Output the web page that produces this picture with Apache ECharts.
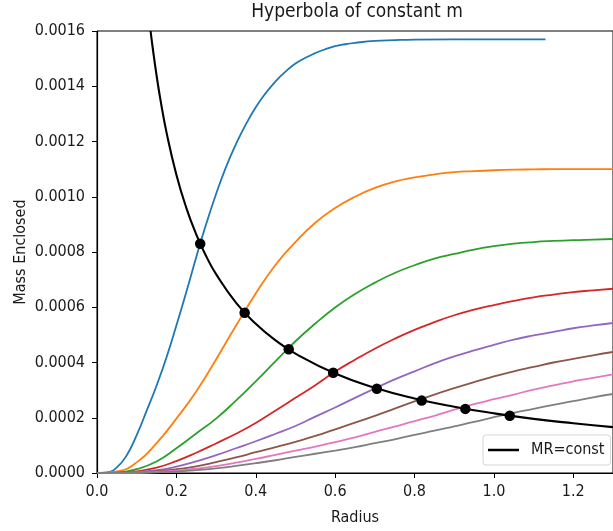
<!DOCTYPE html>
<html><head><meta charset="utf-8">
<script src="https://cdn.jsdelivr.net/npm/echarts@6/dist/echarts.min.js"></script>
<style>html,body{margin:0;padding:0;background:#fff}#c{width:613px;height:531px}</style>
</head><body><div id="c"></div>
<script>
var xs = [0,0.05,0.1,0.15,0.2,0.25,0.3,0.35,0.4,0.45,0.5,0.55,0.6,0.65,0.7,0.75,0.8,0.85,0.9,0.95,1.0,1.05,1.1,1.15,1.2,1.25,1.3];
var xBlue = [0,0.025,0.05,0.075,0.1,0.125,0.15,0.175,0.2,0.225,0.25,0.275,0.3,0.325,0.35,0.375,0.4,0.425,0.45,0.475,0.5,0.525,0.55,0.575,0.6,0.625,0.65,0.7,0.75,0.8,0.9,1.0,1.13];
var mBlue = [0,0.0000022,0.0000204,0.0000644,0.000137,0.000225,0.000316,0.000418,0.000534,0.000655,0.000781,0.000901,0.00101,0.001107,0.00119,0.001262,0.001324,0.001375,0.001418,0.001453,0.001482,0.001503,0.00152,0.001534,0.001545,0.001552,0.001557,0.001564,0.001567,0.001569,0.00157,0.00157,0.00157];
var mOrange = [0,0.0000055,0.0000385,0.000108,0.000197,0.000295,0.000411,0.000533,0.00065,0.000754,0.000836,0.000906,0.000959,0.001,0.001032,0.001055,0.00107,0.001081,0.001089,0.001093,0.001096,0.001098,0.001099,0.0011,0.0011,0.0011,0.0011];
var mGreen = [0,0.0000014,0.000014,0.0000417,0.0000893,0.000143,0.000197,0.000262,0.000332,0.000405,0.000477,0.000541,0.000599,0.000648,0.000689,0.000724,0.000752,0.000776,0.000793,0.000809,0.000821,0.00083,0.000836,0.00084,0.000843,0.000845,0.000847];
var mRed = [0,0.0000007,0.0000062,0.0000192,0.0000431,0.0000732,0.000107,0.000142,0.000181,0.000226,0.000272,0.000318,0.000367,0.00041,0.00045,0.000486,0.000518,0.000546,0.000571,0.000591,0.000608,0.000623,0.000636,0.000646,0.000655,0.000661,0.000667];
var mPurple = [0,0.0000005,0.0000035,0.0000099,0.0000233,0.0000421,0.0000644,0.0000895,0.000115,0.000142,0.00017,0.000204,0.000237,0.000272,0.000306,0.000339,0.000368,0.000397,0.000422,0.000444,0.000464,0.000483,0.000498,0.000511,0.000524,0.000534,0.000543];
var mBrown = [0,0.0000003,0.0000015,0.0000062,0.0000137,0.0000239,0.0000397,0.0000564,0.0000752,0.0000936,0.000113,0.000134,0.000158,0.000182,0.000207,0.000233,0.000259,0.000284,0.000307,0.000329,0.00035,0.000368,0.000384,0.0004,0.000413,0.000426,0.000438];
var mPink = [0,0.0000002,0.0000009,0.0000036,0.0000082,0.000016,0.000025,0.0000378,0.000051,0.000066,0.000081,0.0000955,0.000112,0.000129,0.000149,0.000168,0.000188,0.000207,0.000229,0.000249,0.000267,0.000284,0.000302,0.000317,0.000332,0.000344,0.000357];
var mGray = [0,0.0000002,0.0000006,0.0000024,0.0000053,0.0000105,0.0000166,0.0000255,0.0000354,0.0000462,0.0000582,0.0000697,0.0000814,0.000094,0.000108,0.000122,0.000138,0.000153,0.000169,0.000185,0.000202,0.000218,0.000232,0.000247,0.00026,0.000274,0.000286];
var xHyp = [0.135,0.14,0.15,0.16,0.175,0.2,0.225,0.25,0.275,0.3,0.35,0.4,0.45,0.5,0.6,0.7,0.8,0.9,1.0,1.1,1.2,1.3];
var mHyp = [0.0016,0.001543,0.00144,0.00135,0.001234,0.00108,0.00096,0.000864,0.000785,0.00072,0.000617,0.00054,0.00048,0.000432,0.00036,0.000309,0.00027,0.00024,0.000216,0.000196,0.00018,0.000166];
var xDots = [0.26,0.372,0.483,0.595,0.705,0.818,0.928,1.04];
var mDots = [0.00083,0.00058,0.000448,0.000363,0.000305,0.000262,0.000232,0.000207];
var xTicks = ['0.0','0.2','0.4','0.6','0.8','1.0','1.2'];
var yTicks = ['0.0000','0.0002','0.0004','0.0006','0.0008','0.0010','0.0012','0.0014','0.0016'];
var titleText = 'Hyperbola of constant m';
var xName = 'Radius';
var yName = 'Mass Enclosed';
var legendName = 'MR=const';

var curves = [
  {y: mOrange, c: '#ff7f0e'}, {y: mGreen, c: '#2ca02c'}, {y: mRed, c: '#d62728'},
  {y: mPurple, c: '#9467bd'}, {y: mBrown, c: '#8c564b'}, {y: mPink, c: '#e377c2'}, {y: mGray, c: '#7f7f7f'}
];
function pairs(x, y) { return x.map(function (v, i) { return [v, y[i]]; }); }
var font = "'DejaVu Sans Condensed', Roboto, 'DejaVu Sans', sans-serif";
var txt = '#1a1a1a';
var series = [];
series.push({type: 'line', name: 'c0', data: pairs(xBlue, mBlue), showSymbol: false, smooth: 0.5,
  lineStyle: {color: '#1f77b4', width: 1.8}, itemStyle: {color: '#1f77b4'}, z: 2, silent: true});
curves.forEach(function (cv, i) {
  series.push({type: 'line', name: 'c' + (i + 1), data: pairs(xs, cv.y), showSymbol: false, smooth: 0.5,
    lineStyle: {color: cv.c, width: 1.8}, itemStyle: {color: cv.c}, z: 2, silent: true});
});
series.push({type: 'line', name: legendName, data: pairs(xHyp, mHyp), showSymbol: false, smooth: 0.5,
  lineStyle: {color: '#000', width: 2.1}, itemStyle: {color: '#000'}, z: 3, silent: true});
series.push({type: 'scatter', name: 'dots', data: pairs(xDots, mDots), symbolSize: 10.5,
  itemStyle: {color: '#000', opacity: 1}, z: 4, silent: true});

var chart = echarts.init(document.getElementById('c'), null, {renderer: 'canvas'});
chart.setOption({
  animation: false,
  backgroundColor: '#fff',
  title: {text: titleText, left: 357, top: 3, padding: 0, textAlign: 'center',
    textStyle: {fontFamily: font, fontSize: 19, fontWeight: 'normal', color: txt}},
  legend: {
    data: [{name: legendName, icon: 'rect'}],
    left: 483, top: 435, itemWidth: 31, itemHeight: 2.5, itemGap: 8,
    padding: [7, 6, 7, 5], backgroundColor: '#fff', borderColor: '#d6d6d6', borderWidth: 1, borderRadius: 3,
    textStyle: {fontFamily: font, fontSize: 16, color: txt, padding: [0, 0, 0, 7]}
  },
  grid: {left: 97, top: 31, right: -4, bottom: 58, show: true, borderColor: '#000', borderWidth: 1, backgroundColor: 'transparent'},
  xAxis: {
    type: 'value', min: 0, max: 1.3, interval: 0.2,
    name: xName, nameLocation: 'middle', nameGap: 37, nameMoveOverlap: false,
    nameTextStyle: {fontFamily: font, fontSize: 16, color: txt},
    axisLine: {lineStyle: {color: '#000', width: 1.2}},
    axisTick: {length: 5, lineStyle: {color: '#000'}},
    splitLine: {show: false},
    axisLabel: {showMaxLabel: false, margin: 11, fontFamily: font, fontSize: 16, color: txt,
      formatter: function (v) { var i = Math.round(v / 0.2); return Math.abs(v - i * 0.2) < 1e-9 ? xTicks[i] : ''; }}
  },
  yAxis: {
    type: 'value', min: 0, max: 0.0016, interval: 0.0002,
    name: yName, nameLocation: 'middle', nameGap: 68, nameMoveOverlap: false,
    nameTextStyle: {fontFamily: font, fontSize: 16, color: txt},
    axisLine: {show: true, lineStyle: {color: '#000', width: 1.2}},
    axisTick: {show: true, length: 5, lineStyle: {color: '#000'}},
    splitLine: {show: false},
    axisLabel: {margin: 12, fontFamily: font, fontSize: 16, color: txt,
      formatter: function (v) { return yTicks[Math.round(v / 0.0002)]; }}
  },
  series: series
});
</script>
</body></html>
